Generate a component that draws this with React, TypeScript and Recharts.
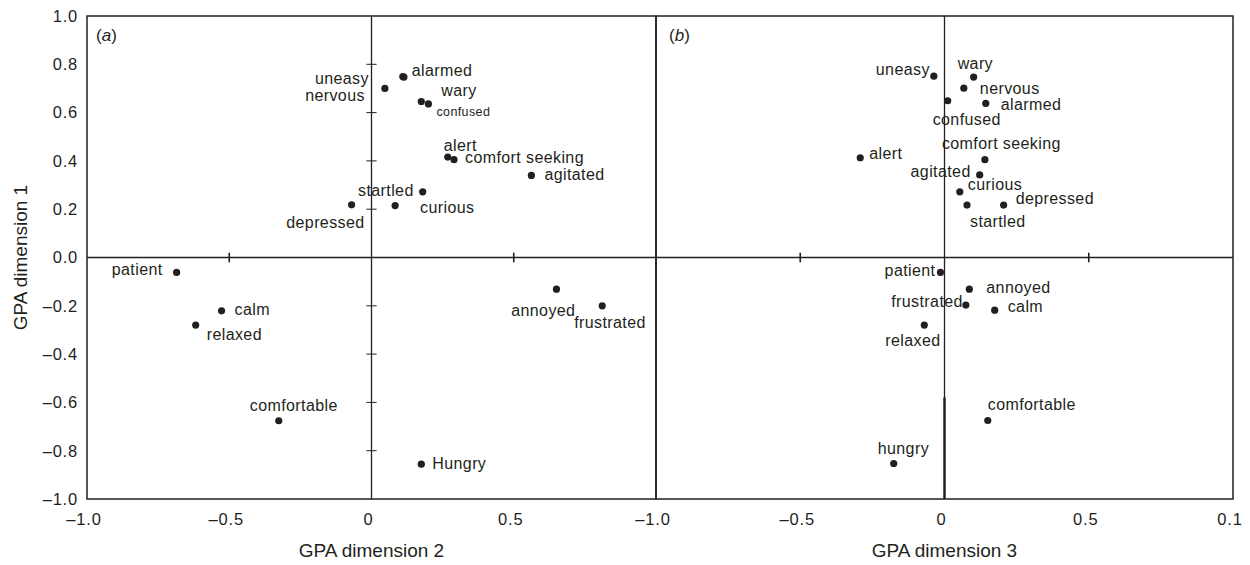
import { ReferenceArea, ReferenceLine, Scatter, ScatterChart, XAxis, YAxis } from 'recharts';

// panel (a): GPA dimension 2 against GPA dimension 1
const panelAWords = ['alarmed', 'uneasy', 'nervous', 'wary', 'confused', 'alert', 'comfort seeking', 'agitated', 'startled', 'curious', 'depressed', 'patient', 'calm', 'relaxed', 'comfortable', 'Hungry', 'annoyed', 'frustrated'];
const panelADim2 = [0.11, 0.114, 0.047, 0.175, 0.2, 0.268, 0.29, 0.562, 0.18, 0.083, -0.07, -0.685, -0.527, -0.618, -0.326, 0.175, 0.65, 0.811];
const panelADim1 = [0.749, 0.747, 0.7, 0.646, 0.636, 0.416, 0.405, 0.34, 0.272, 0.215, 0.218, -0.062, -0.221, -0.28, -0.676, -0.856, -0.131, -0.2];

// panel (b): GPA dimension 3 against GPA dimension 1
const panelBWords = ['uneasy', 'wary', 'nervous', 'confused', 'alarmed', 'alert', 'comfort seeking', 'agitated', 'curious', 'startled', 'depressed', 'patient', 'annoyed', 'frustrated', 'calm', 'relaxed', 'comfortable', 'hungry'];
const panelBDim3 = [-0.037, 0.101, 0.067, 0.011, 0.143, -0.292, 0.14, 0.122, 0.053, 0.078, 0.205, -0.014, 0.086, 0.074, 0.174, -0.07, 0.15, -0.176];
const panelBDim1 = [0.751, 0.747, 0.701, 0.649, 0.638, 0.413, 0.405, 0.342, 0.272, 0.217, 0.217, -0.062, -0.131, -0.197, -0.218, -0.28, -0.675, -0.853];

const dim1Ticks = [-1, -0.8, -0.6, -0.4, -0.2, 0, 0.2, 0.4, 0.6, 0.8, 1];
const dim1TickLabels = ['–1.0', '–0.8', '–0.6', '–0.4', '–0.2', '0.0', '0.2', '0.4', '0.6', '0.8', '1.0'];
const dim2Ticks = [-1, -0.5, 0, 0.5];
const dim2TickLabels = ['–1.0', '–0.5', '0', '0.5'];
const dim3Ticks = [-1, -0.5, 0, 0.5, 1];
const dim3TickLabels = ['–1.0', '–0.5', '0', '0.5', '0.1'];

// small marks on the zero lines
const innerYMarks = [0.8, 0.6, 0.4, 0.2, -0.2, -0.4, -0.6, -0.8];
const innerXMarks = [-0.5, 0.5];

const INK = '#231f20';

type Spot = [number, number, 'start' | 'end', number?];

// where each word sits next to its dot (px from the dot)
const spotsA: Record<string, Spot> = {
  alarmed: [9, -6, 'start'],
  uneasy: [-35, 1, 'end'],
  nervous: [-20, 7, 'end'],
  wary: [20, -11, 'start'],
  confused: [8, 8, 'start', 12.5],
  alert: [-4, -12, 'start'],
  'comfort seeking': [11, -2, 'start'],
  agitated: [13, -1, 'start'],
  startled: [-9, -1, 'end'],
  curious: [25, 2, 'start'],
  depressed: [13, 18, 'end'],
  patient: [-14, -3, 'end'],
  calm: [13, -1, 'start'],
  relaxed: [11, 9, 'start'],
  comfortable: [-29, -15, 'start'],
  Hungry: [11, -1, 'start'],
  annoyed: [19, 21, 'end'],
  frustrated: [-28, 17, 'start'],
};

const spotsB: Record<string, Spot> = {
  uneasy: [-4, -7, 'end'],
  wary: [-16, -14, 'start'],
  nervous: [16, 0, 'start'],
  confused: [-15, 19, 'start'],
  alarmed: [15, 1, 'start'],
  alert: [9, -4, 'start'],
  'comfort seeking': [-43, -16, 'start'],
  agitated: [-9, -3, 'end'],
  curious: [8, -7, 'start'],
  startled: [3, 16, 'start'],
  depressed: [12, -7, 'start'],
  patient: [-5, -2, 'end'],
  annoyed: [17, -2, 'start'],
  frustrated: [-3, -4, 'end'],
  calm: [13, -4, 'start'],
  relaxed: [-39, 15, 'start'],
  comfortable: [0, -16, 'start'],
  hungry: [-16, -15, 'start'],
};

const toPoints = (words: string[], xs: number[], ys: number[]) =>
  words.map((word, i) => ({ word, x: xs[i], y: ys[i] }));

const panelA = toPoints(panelAWords, panelADim2, panelADim1);
const panelB = toPoints(panelBWords, panelBDim3, panelBDim1);

const fmt = (ticks: number[], labels: string[]) => (v: number) => {
  const i = ticks.indexOf(v);
  return i >= 0 ? labels[i] : String(v);
};

const wordDot = (spots: Record<string, Spot>) => (props: any) => {
  const { cx, cy, payload } = props;
  const [dx, dy, anchor, size] = spots[payload.word] ?? [8, 0, 'start'];
  return (
    <g>
      <circle cx={cx} cy={cy} r={3.6} fill={INK} />
      <text
        x={cx + dx}
        y={cy + dy}
        textAnchor={anchor}
        dominantBaseline="central"
        fontSize={size ?? 16}
        letterSpacing={0.4}
        fill={INK}
      >
        {payload.word}
      </text>
    </g>
  );
};

const PanelTag = ({ viewBox, tag, dx }: any) => {
  if (!viewBox) return null;
  return (
    <text x={viewBox.x + dx} y={viewBox.y + 25} fontSize={17} fill={INK}>
      (<tspan fontStyle="italic">{tag}</tspan>)
    </text>
  );
};

const tickStyle = { fill: INK, fontSize: 16.5, letterSpacing: 0.8 };
const titleStyle = { fill: INK, fontSize: 19 };

export default function App() {
  return (
    <div
      style={{
        position: 'absolute',
        left: 0,
        top: 0,
        width: 1250,
        height: 565,
        background: '#fff',
        fontFamily: '"Liberation Sans", Arial, sans-serif',
      }}
    >
      <div style={{ position: 'absolute', left: 0, top: 0 }}>
        <ScatterChart width={660} height={565} margin={{ top: 16, right: 4, bottom: 6, left: 0 }}>
          <XAxis
            type="number"
            dataKey="x"
            domain={[-1, 1]}
            ticks={dim2Ticks}
            interval={0}
            tickLine={false}
            axisLine={false}
            height={60}
            tickMargin={8}
            tick={{ ...tickStyle, dx: -3 }}
            tickFormatter={fmt(dim2Ticks, dim2TickLabels)}
            label={{ value: 'GPA dimension 2', position: 'insideBottom', offset: 2, style: titleStyle }}
          />
          <YAxis
            type="number"
            dataKey="y"
            domain={[-1, 1]}
            ticks={dim1Ticks}
            interval={0}
            tickLine={false}
            axisLine={false}
            width={87}
            tickMargin={3}
            tick={tickStyle}
            tickFormatter={fmt(dim1Ticks, dim1TickLabels)}
            label={{
              value: 'GPA dimension 1',
              angle: -90,
              position: 'insideLeft',
              offset: 20,
              style: { ...titleStyle, textAnchor: 'middle' },
            }}
          />
          <ReferenceArea
            x1={-1}
            x2={1}
            y1={-1}
            y2={1}
            fill="none"
            stroke={INK}
            strokeWidth={1.5}
            ifOverflow="visible"
            label={<PanelTag tag="a" dx={9} />}
          />
          <ReferenceLine x={0} stroke={INK} strokeWidth={1.3} />
          <ReferenceLine y={0} stroke={INK} strokeWidth={1.3} />
          {innerYMarks.map((v) => (
            <ReferenceLine
              key={'ya' + v}
              segment={[{ x: -0.018, y: v }, { x: 0.018, y: v }]}
              stroke={INK}
              strokeWidth={1}
            />
          ))}
          {innerXMarks.map((v) => (
            <ReferenceLine
              key={'xa' + v}
              segment={[{ x: v, y: -0.02 }, { x: v, y: 0.02 }]}
              stroke={INK}
              strokeWidth={1.6}
            />
          ))}
          <Scatter data={panelA} shape={wordDot(spotsA)} isAnimationActive={false} />
        </ScatterChart>
      </div>

      <div style={{ position: 'absolute', left: 596, top: 0 }}>
        <ScatterChart width={647} height={565} margin={{ top: 16, right: 10, bottom: 6, left: 60 }}>
          <XAxis
            type="number"
            dataKey="x"
            domain={[-1, 1]}
            ticks={dim3Ticks}
            interval={0}
            tickLine={false}
            axisLine={false}
            height={60}
            tickMargin={8}
            tick={{ ...tickStyle, dx: -3 }}
            tickFormatter={fmt(dim3Ticks, dim3TickLabels)}
            label={{ value: 'GPA dimension 3', position: 'insideBottom', offset: 2, style: titleStyle }}
          />
          <YAxis type="number" dataKey="y" domain={[-1, 1]} hide />
          <ReferenceArea
            x1={-1}
            x2={1}
            y1={-1}
            y2={1}
            fill="none"
            stroke={INK}
            strokeWidth={1.5}
            ifOverflow="visible"
            label={<PanelTag tag="b" dx={13} />}
          />
          <ReferenceLine x={0} stroke={INK} strokeWidth={1.3} />
          <ReferenceLine segment={[{ x: 0, y: -0.58 }, { x: 0, y: -1 }]} stroke={INK} strokeWidth={2.4} />
          <ReferenceLine y={0} stroke={INK} strokeWidth={1.3} />
          {innerXMarks.map((v) => (
            <ReferenceLine
              key={'xb' + v}
              segment={[{ x: v, y: -0.02 }, { x: v, y: 0.02 }]}
              stroke={INK}
              strokeWidth={1.6}
            />
          ))}
          <Scatter data={panelB} shape={wordDot(spotsB)} isAnimationActive={false} />
        </ScatterChart>
      </div>
    </div>
  );
}
